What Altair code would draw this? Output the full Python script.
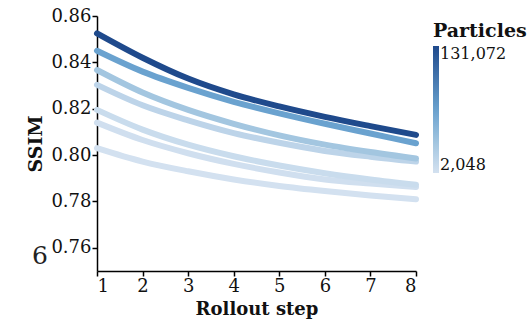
import altair as alt
import pandas as pd

steps = [1, 2, 3, 4, 5, 6, 7, 8]
particles = [2048, 4096, 8192, 16384, 32768, 65536, 131072]
ssim_2048 = [0.8030, 0.7972, 0.7930, 0.7895, 0.7867, 0.7845, 0.7826, 0.7810]
ssim_4096 = [0.8140, 0.8065, 0.8008, 0.7962, 0.7925, 0.7895, 0.7877, 0.7862]
ssim_8192 = [0.8195, 0.8110, 0.8045, 0.7995, 0.7955, 0.7922, 0.7895, 0.7872]
ssim_16384 = [0.8303, 0.8215, 0.8150, 0.8095, 0.8053, 0.8018, 0.7993, 0.7972]
ssim_32768 = [0.8367, 0.8270, 0.8195, 0.8135, 0.8085, 0.8045, 0.8013, 0.7985]
ssim_65536 = [0.8450, 0.8360, 0.8290, 0.8230, 0.8180, 0.8135, 0.8093, 0.8051]
ssim_131072 = [0.8525, 0.8420, 0.8330, 0.8262, 0.8210, 0.8165, 0.8125, 0.8087]

series = [ssim_2048, ssim_4096, ssim_8192, ssim_16384, ssim_32768, ssim_65536, ssim_131072]
rows = []
for p, vals in zip(particles, series):
    for s, v in zip(steps, vals):
        rows.append({"step": s, "ssim": v, "particles": p})
df = pd.DataFrame(rows)

color_stops = [2048, 32768, 65536, 131072]
color_range = ["#d3e1f0", "#a3c6e0", "#6aa2cf", "#1f4a8c"]

FONT = "DejaVu Serif"

lines = alt.Chart(df).mark_line(strokeWidth=6, strokeCap="round", interpolate="monotone").encode(
    x=alt.X("step:Q", title="Rollout step",
            scale=alt.Scale(domain=[1, 8], nice=False),
            axis=alt.Axis(values=steps, format="d", grid=False, tickSize=5,
                          labelPadding=1, titlePadding=5, titleFontSize=18)),
    y=alt.Y("ssim:Q", title="SSIM",
            scale=alt.Scale(domain=[0.75, 0.86], nice=False, zero=False),
            axis=alt.Axis(values=[0.76, 0.78, 0.80, 0.82, 0.84, 0.86], format=".2f",
                          grid=False, tickSize=5, labelPadding=1, titlePadding=5)),
    color=alt.Color("particles:Q", title="Particles",
                    scale=alt.Scale(type="linear", domain=color_stops, range=color_range,
                                    interpolate="rgb"),
                    legend=alt.Legend(orient="none", legendX=336, legendY=6,
                                      values=[2048, 131072],
                                      labelExpr="format(datum.value, ',')",
                                      gradientLength=127, gradientThickness=6,
                                      titleFontSize=19, titleFontWeight="bold",
                                      labelFontSize=16, titlePadding=5, labelOffset=1,
                                      gradientStrokeWidth=0)),
    detail="particles:N",
    order=alt.Order("particles:Q"),
)

stray = alt.Chart(pd.DataFrame({"t": ["6"]})).mark_text(
    fontSize=25, font=FONT, align="center", baseline="middle", color="#222"
).encode(x=alt.value(-57), y=alt.value(240), text="t:N")

chart = alt.layer(lines, stray).properties(
    width=319, height=255,
    autosize=alt.AutoSizeParams(type="none"),
    padding={"left": 97, "top": 16, "right": 115, "bottom": 49},
).configure(font=FONT).configure_view(stroke=None).configure_axis(
    labelFont=FONT, titleFont=FONT, labelFontSize=18, titleFontSize=19,
    titleFontWeight="bold", domainColor="black", tickColor="black",
    labelColor="#111", titleColor="#111", domainWidth=1.5, tickWidth=1.5,
).configure_legend(labelFont=FONT, titleFont=FONT, labelColor="#111", titleColor="#111")

chart.save("out.html", embed_options={"renderer": "svg", "actions": False})
